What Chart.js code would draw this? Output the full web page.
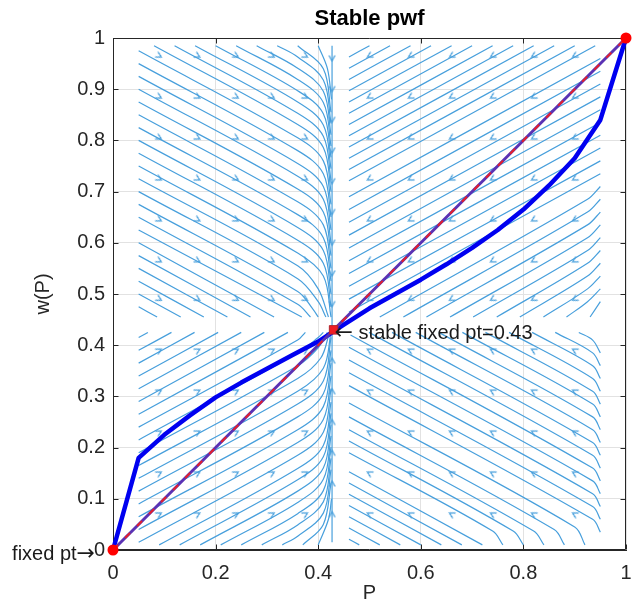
<!DOCTYPE html>
<html>
<head>
<meta charset="utf-8">
<title>Stable pwf</title>
<script src="https://cdn.jsdelivr.net/npm/chart.js@4.4.1/dist/chart.umd.min.js"></script>
<style>
  html, body { margin: 0; padding: 0; background: #fff; }
  canvas { display: block; }
</style>
</head>
<body>
<canvas id="pwfChart" width="633" height="609"></canvas>
<script>
// probability weighting curve w(P)
const pVals = [0, 0.05, 0.1, 0.15, 0.2, 0.25, 0.3, 0.35, 0.4, 0.45, 0.5, 0.55, 0.6, 0.65, 0.7, 0.75, 0.8, 0.85, 0.9, 0.95, 1];
const wVals = [0, 0.18, 0.225, 0.263, 0.298, 0.327, 0.354, 0.381, 0.407, 0.44, 0.472, 0.5, 0.528, 0.558, 0.59, 0.625, 0.665, 0.712, 0.765, 0.84, 1];

// identity line w = P
const diagP = [0, 1];
const diagW = [0, 1];

// fixed points
const endFixedP = [0, 1];
const endFixedW = [0, 1];
const stableP = [0.43];
const stableW = [0.43];

const xTickLabels = ['0', '0.2', '0.4', '0.6', '0.8', '1'];
const yTickLabels = ['0', '0.1', '0.2', '0.3', '0.4', '0.5', '0.6', '0.7', '0.8', '0.9', '1'];

// streamlines, each one a flat list x0,y0, x1,y1, ...
const streamUL = [
  [0.05, 0.975, 0.36, 0.805, 0.41, 0.76, 0.425, 0.675],
  [0.05, 0.95, 0.36, 0.78, 0.41, 0.735, 0.425, 0.65],
  [0.05, 0.925, 0.36, 0.755, 0.41, 0.71, 0.425, 0.625],
  [0.05, 0.9, 0.36, 0.73, 0.41, 0.685, 0.425, 0.6],
  [0.05, 0.875, 0.36, 0.705, 0.41, 0.66, 0.425, 0.575],
  [0.05, 0.85, 0.36, 0.68, 0.41, 0.635, 0.425, 0.55],
  [0.05, 0.825, 0.36, 0.655, 0.41, 0.61, 0.425, 0.525],
  [0.05, 0.8, 0.36, 0.63, 0.41, 0.585, 0.425, 0.5],
  [0.05, 0.775, 0.36, 0.605, 0.41, 0.56, 0.425, 0.475],
  [0.05, 0.75, 0.36, 0.58, 0.41, 0.535, 0.425, 0.455],
  [0.05, 0.725, 0.36, 0.555, 0.4, 0.51, 0.42, 0.455],
  [0.05, 0.7, 0.36, 0.53, 0.4, 0.485, 0.415, 0.455],
  [0.05, 0.675, 0.36, 0.505, 0.39, 0.47, 0.4, 0.455],
  [0.05, 0.65, 0.36, 0.48, 0.385, 0.455],
  [0.05, 0.625, 0.368, 0.455],
  [0.05, 0.6, 0.314, 0.455],
  [0.05, 0.575, 0.268, 0.455],
  [0.05, 0.55, 0.223, 0.455],
  [0.05, 0.525, 0.177, 0.455],
  [0.05, 0.5, 0.132, 0.455],
  [0.05, 0.475, 0.086, 0.455],
  [0.08, 0.985, 0.36, 0.831, 0.41, 0.786, 0.425, 0.7],
  [0.12, 0.985, 0.36, 0.853, 0.41, 0.808, 0.425, 0.722],
  [0.16, 0.985, 0.36, 0.875, 0.41, 0.83, 0.425, 0.745],
  [0.2, 0.985, 0.36, 0.897, 0.41, 0.852, 0.425, 0.767],
  [0.24, 0.985, 0.36, 0.919, 0.41, 0.874, 0.425, 0.789],
  [0.28, 0.985, 0.36, 0.941, 0.41, 0.896, 0.425, 0.811],
  [0.32, 0.985, 0.36, 0.963, 0.41, 0.918, 0.425, 0.833],
  [0.36, 0.985, 0.41, 0.94, 0.425, 0.855],
  [0.4, 0.985, 0.418, 0.94, 0.426, 0.88]
];

const streamLL = [
  [0.05, 0.415, 0.068, 0.425],
  [0.05, 0.39, 0.114, 0.425],
  [0.05, 0.365, 0.159, 0.425],
  [0.05, 0.34, 0.205, 0.425],
  [0.05, 0.315, 0.25, 0.425],
  [0.05, 0.29, 0.295, 0.425],
  [0.05, 0.265, 0.341, 0.425],
  [0.05, 0.24, 0.36, 0.41, 0.375, 0.425],
  [0.05, 0.215, 0.36, 0.385, 0.4, 0.415, 0.41, 0.425],
  [0.05, 0.19, 0.36, 0.36, 0.4, 0.395, 0.418, 0.425],
  [0.05, 0.165, 0.36, 0.335, 0.405, 0.375, 0.422, 0.425],
  [0.05, 0.14, 0.36, 0.31, 0.41, 0.355, 0.425, 0.425],
  [0.05, 0.115, 0.36, 0.285, 0.41, 0.33, 0.425, 0.415],
  [0.05, 0.09, 0.36, 0.26, 0.41, 0.305, 0.425, 0.39],
  [0.05, 0.065, 0.36, 0.235, 0.41, 0.28, 0.425, 0.365],
  [0.05, 0.04, 0.36, 0.21, 0.41, 0.255, 0.425, 0.34],
  [0.05, 0.015, 0.36, 0.185, 0.41, 0.23, 0.425, 0.315],
  [0.09, 0.01, 0.36, 0.159, 0.41, 0.204, 0.425, 0.289],
  [0.13, 0.01, 0.36, 0.137, 0.41, 0.182, 0.425, 0.267],
  [0.17, 0.01, 0.36, 0.115, 0.41, 0.16, 0.425, 0.245],
  [0.21, 0.01, 0.36, 0.093, 0.41, 0.138, 0.425, 0.223],
  [0.25, 0.01, 0.36, 0.071, 0.41, 0.116, 0.425, 0.201],
  [0.29, 0.01, 0.36, 0.049, 0.41, 0.094, 0.425, 0.179],
  [0.33, 0.01, 0.36, 0.027, 0.41, 0.072, 0.425, 0.157],
  [0.37, 0.01, 0.41, 0.05, 0.425, 0.13],
  [0.4, 0.01, 0.42, 0.06, 0.426, 0.1]
];

const streamUR = [
  [0.5, 0.985, 0.46, 0.963],
  [0.54, 0.985, 0.46, 0.941],
  [0.58, 0.985, 0.46, 0.919],
  [0.62, 0.985, 0.46, 0.897],
  [0.66, 0.985, 0.46, 0.875],
  [0.7, 0.985, 0.46, 0.853],
  [0.74, 0.985, 0.46, 0.831],
  [0.78, 0.985, 0.46, 0.809],
  [0.82, 0.985, 0.46, 0.787],
  [0.86, 0.985, 0.46, 0.765],
  [0.9, 0.985, 0.46, 0.743],
  [0.94, 0.985, 0.46, 0.721],
  [0.95, 0.96, 0.46, 0.69],
  [0.95, 0.935, 0.46, 0.665],
  [0.95, 0.91, 0.46, 0.64],
  [0.95, 0.885, 0.46, 0.615],
  [0.95, 0.86, 0.46, 0.59],
  [0.95, 0.835, 0.46, 0.565],
  [0.95, 0.81, 0.46, 0.54],
  [0.95, 0.785, 0.46, 0.515],
  [0.95, 0.76, 0.46, 0.49],
  [0.95, 0.735, 0.46, 0.465],
  [0.95, 0.71, 0.925, 0.685, 0.52, 0.455],
  [0.95, 0.685, 0.925, 0.66, 0.566, 0.455],
  [0.95, 0.66, 0.925, 0.635, 0.611, 0.455],
  [0.95, 0.635, 0.925, 0.61, 0.657, 0.455],
  [0.95, 0.61, 0.925, 0.585, 0.702, 0.455],
  [0.95, 0.585, 0.925, 0.56, 0.748, 0.455],
  [0.95, 0.56, 0.925, 0.535, 0.793, 0.455],
  [0.95, 0.535, 0.925, 0.51, 0.839, 0.455],
  [0.95, 0.51, 0.925, 0.485, 0.884, 0.455],
  [0.95, 0.485, 0.93, 0.455]
];

const streamLR = [
  [0.48, 0.01, 0.46, 0.021],
  [0.52, 0.01, 0.46, 0.043],
  [0.56, 0.01, 0.46, 0.065],
  [0.6, 0.01, 0.46, 0.087],
  [0.64, 0.01, 0.46, 0.109],
  [0.68, 0.01, 0.46, 0.131],
  [0.72, 0.01, 0.46, 0.153],
  [0.76, 0.01, 0.74, 0.037, 0.46, 0.19],
  [0.8, 0.01, 0.78, 0.037, 0.46, 0.213],
  [0.84, 0.01, 0.82, 0.037, 0.46, 0.235],
  [0.88, 0.01, 0.86, 0.04, 0.46, 0.26],
  [0.92, 0.01, 0.9, 0.045, 0.46, 0.287],
  [0.95, 0.035, 0.935, 0.06, 0.46, 0.321],
  [0.95, 0.06, 0.935, 0.085, 0.46, 0.346],
  [0.95, 0.085, 0.935, 0.11, 0.46, 0.371],
  [0.95, 0.11, 0.935, 0.135, 0.46, 0.396],
  [0.95, 0.135, 0.935, 0.16, 0.463, 0.42],
  [0.95, 0.16, 0.935, 0.185, 0.499, 0.425],
  [0.95, 0.185, 0.935, 0.21, 0.544, 0.425],
  [0.95, 0.21, 0.935, 0.235, 0.59, 0.425],
  [0.95, 0.235, 0.935, 0.26, 0.635, 0.425],
  [0.95, 0.26, 0.935, 0.285, 0.681, 0.425],
  [0.95, 0.285, 0.935, 0.31, 0.726, 0.425],
  [0.95, 0.31, 0.935, 0.335, 0.772, 0.425],
  [0.95, 0.335, 0.935, 0.36, 0.817, 0.425],
  [0.95, 0.36, 0.935, 0.385, 0.862, 0.425],
  [0.95, 0.385, 0.935, 0.41, 0.908, 0.425]
];

const streamMid = [
  [0.427, 0.015, 0.427, 0.985]
];

// arrow heads on the streamlines
const arrowLeftX = [0.09, 0.165, 0.24, 0.31, 0.375];
const arrowRightX = [0.5, 0.58, 0.66, 0.74, 0.82, 0.9];
const arrowUpperY = [0.965, 0.885, 0.805, 0.725, 0.645, 0.565, 0.49];
const arrowLowerY = [0.39, 0.31, 0.23, 0.15, 0.07];
const arrowMidX = 0.427;
const arrowMidUpperY = [0.96, 0.9, 0.84, 0.78, 0.72, 0.66, 0.6, 0.54, 0.48];
const arrowMidLowerY = [0.37, 0.31, 0.25, 0.19, 0.13, 0.07];

const fontFamily = "'Liberation Sans', Arial, Helvetica, sans-serif";
const arrowFont = "22px 'DejaVu Sans'";
const axisColor = '#262626';
const gridColor = '#e2e2e2';
const streamColor = '#479fdc';

function toPoints(flat) {
  const pts = [];
  for (let i = 0; i < flat.length; i += 2) {
    pts.push({ x: flat[i], y: flat[i + 1] });
  }
  return pts;
}

function grid(xs, ys) {
  const pts = [];
  ys.forEach(y => xs.forEach(x => pts.push({ x: x, y: y })));
  return pts;
}

// small open arrow head, pointing up before rotation
function makeChevron() {
  const c = document.createElement('canvas');
  c.width = 9;
  c.height = 9;
  const g = c.getContext('2d');
  g.strokeStyle = streamColor;
  g.lineWidth = 1.3;
  g.beginPath();
  g.moveTo(1.5, 7.5);
  g.lineTo(4.5, 2);
  g.lineTo(7.5, 7.5);
  g.stroke();
  return c;
}
const chevron = makeChevron();

const datasets = [];

[streamUL, streamLL, streamUR, streamLR, streamMid].forEach(family => {
  family.forEach(line => {
    datasets.push({
      data: toPoints(line),
      showLine: true,
      borderColor: streamColor,
      borderWidth: 1.2,
      pointRadius: 0,
      tension: 0.35,
      order: 6
    });
  });
});

const arrowGroups = [
  { pts: grid(arrowLeftX, arrowUpperY), angle: 119 },
  { pts: grid(arrowLeftX, arrowLowerY), angle: 61 },
  { pts: grid(arrowRightX, arrowUpperY), angle: 241 },
  { pts: grid(arrowRightX, arrowLowerY), angle: 299 },
  { pts: grid([arrowMidX], arrowMidUpperY), angle: 180 },
  { pts: grid([arrowMidX], arrowMidLowerY), angle: 0 }
];
arrowGroups.forEach(g => {
  datasets.push({
    data: g.pts,
    showLine: false,
    pointStyle: chevron,
    rotation: g.angle,
    pointRadius: 4,
    order: 5
  });
});

datasets.push({
  data: pVals.map((p, i) => ({ x: p, y: wVals[i] })),
  showLine: true,
  borderColor: '#0000f0',
  borderWidth: 4.5,
  borderJoinStyle: 'round',
  pointRadius: 0,
  clip: false,
  order: 3
});

datasets.push({
  data: diagP.map((p, i) => ({ x: p, y: diagW[i] })),
  showLine: true,
  borderColor: '#5a32b4',
  borderWidth: 3,
  pointRadius: 0,
  clip: false,
  order: 2
});

datasets.push({
  data: diagP.map((p, i) => ({ x: p, y: diagW[i] })),
  showLine: true,
  borderColor: '#e3202c',
  borderWidth: 2,
  borderDash: [7, 10],
  pointRadius: 0,
  clip: false,
  order: 1
});

datasets.push({
  data: endFixedP.map((p, i) => ({ x: p, y: endFixedW[i] })),
  showLine: false,
  pointStyle: 'circle',
  pointRadius: 5.5,
  backgroundColor: '#ff0000',
  borderColor: '#ff0000',
  borderWidth: 0,
  clip: false,
  order: 0
});

datasets.push({
  data: stableP.map((p, i) => ({ x: p, y: stableW[i] })),
  showLine: false,
  pointStyle: 'rect',
  pointRadius: 6,
  backgroundColor: '#ee1c24',
  borderColor: '#b3262e',
  borderWidth: 1,
  clip: false,
  order: 0
});

// axes box with inward ticks, plus the text notes
const frame = {
  id: 'frame',
  beforeDatasetsDraw(chart) {
    const { ctx, chartArea: a, scales } = chart;
    const L = Math.round(a.left) + 0.5, R = Math.round(a.right) - 0.5;
    const T = Math.round(a.top) + 0.5, B = Math.round(a.bottom) - 0.5;
    ctx.save();
    ctx.strokeStyle = axisColor;
    ctx.lineWidth = 1;
    ctx.beginPath();
    ctx.rect(L, T, R - L, B - T);
    scales.x.ticks.forEach(t => {
      const px = Math.round(scales.x.getPixelForValue(t.value)) + 0.5;
      ctx.moveTo(px, B); ctx.lineTo(px, B - 5);
      ctx.moveTo(px, T); ctx.lineTo(px, T + 5);
    });
    scales.y.ticks.forEach(t => {
      const py = Math.round(scales.y.getPixelForValue(t.value)) + 0.5;
      ctx.moveTo(L, py); ctx.lineTo(L + 5, py);
      ctx.moveTo(R, py); ctx.lineTo(R - 5, py);
    });
    ctx.stroke();
    ctx.restore();
  },
  afterDatasetsDraw(chart) {
    const { ctx, scales: { x, y } } = chart;
    const sx = x.getPixelForValue(stableP[0]);
    const sy = y.getPixelForValue(stableW[0]);
    const ox = x.getPixelForValue(0);
    const oy = y.getPixelForValue(0);
    ctx.save();
    ctx.fillStyle = '#1a1a1a';
    ctx.textBaseline = 'alphabetic';
    ctx.textAlign = 'left';
    // "<- stable fixed pt=0.43"
    ctx.font = arrowFont;
    ctx.fillText('\u2190', sx + 1, sy + 9);
    const aw = ctx.measureText('\u2190').width;
    ctx.font = '20px ' + fontFamily;
    ctx.fillText(' stable fixed pt=0.43', sx + 1 + aw, sy + 9);
    // "fixed pt->" ending next to the 0 tick label
    ctx.textAlign = 'right';
    ctx.font = arrowFont;
    ctx.fillText('\u2192', ox - 18, oy + 10);
    const bw = ctx.measureText('\u2192').width;
    ctx.font = '20px ' + fontFamily;
    ctx.fillText('fixed pt', ox - 18 - bw, oy + 10);
    ctx.restore();
  }
};

new Chart(document.getElementById('pwfChart').getContext('2d'), {
  type: 'scatter',
  data: { datasets: datasets },
  plugins: [frame],
  options: {
    responsive: false,
    animation: false,
    devicePixelRatio: 1,
    events: [],
    layout: { padding: 0 },
    plugins: {
      legend: { display: false },
      tooltip: { enabled: false },
      title: {
        display: true,
        text: 'Stable pwf',
        fullSize: false,
        color: '#000',
        font: { family: fontFamily, size: 22, weight: 'bold', lineHeight: 1.2 },
        padding: { top: 6, bottom: 5.6 }
      }
    },
    scales: {
      x: {
        type: 'linear',
        min: 0,
        max: 1,
        afterFit: s => {
          s.height = 59;
          s.paddingLeft = 0;
          s.paddingRight = 6;
        },
        ticks: {
          stepSize: 0.2,
          autoSkip: false,
          maxRotation: 0,
          padding: 11,
          color: axisColor,
          font: { family: fontFamily, size: 20 },
          callback: (v, i) => xTickLabels[i]
        },
        grid: { color: gridColor, drawTicks: false },
        border: { color: axisColor },
        title: {
          display: true,
          text: 'P',
          color: axisColor,
          font: { family: fontFamily, size: 20 },
          padding: { top: 0, bottom: 4 }
        }
      },
      y: {
        type: 'linear',
        min: 0,
        max: 1,
        afterFit: s => { s.width = 113; },
        ticks: {
          stepSize: 0.1,
          autoSkip: false,
          padding: 8,
          color: axisColor,
          font: { family: fontFamily, size: 20 },
          callback: (v, i) => yTickLabels[i]
        },
        grid: { color: gridColor, drawTicks: false },
        border: { color: axisColor },
        title: {
          display: true,
          text: 'w(P)',
          color: axisColor,
          font: { family: fontFamily, size: 20 },
          padding: { top: 31, bottom: 0 }
        }
      }
    }
  }
});
</script>
</body>
</html>
